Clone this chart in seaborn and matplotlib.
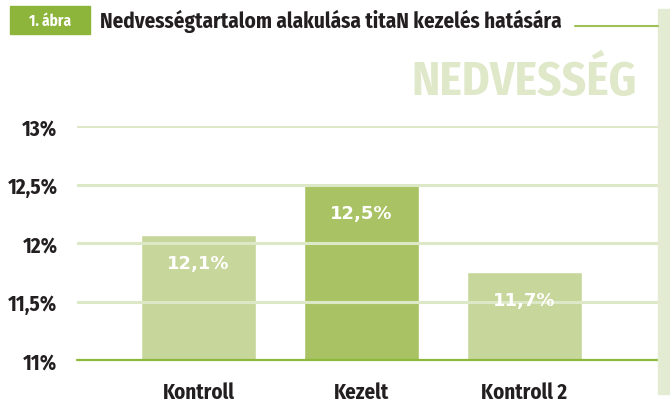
import matplotlib
matplotlib.use("Agg")
import matplotlib.pyplot as plt
import seaborn as sns
import pandas as pd
from matplotlib import font_manager as fm

categories = ["Kontroll", "Kezelt", "Kontroll 2"]
values = [12.07, 12.5, 11.75]
value_labels = ["12,1%", "12,5%", "11,7%"]
yticks = [11, 11.5, 12, 12.5, 13]
ytick_labels = ["11%", "11,5%", "12%", "12,5%", "13%"]
bar_colors = ["#c7d69b", "#a9c364", "#c7d69b"]

sns.set_theme(style="white")
names = {f.name for f in fm.fontManager.ttflist}
cond = "DejaVu Sans"
for cand in ["Fira Sans Condensed", "Roboto Condensed", "PT Sans Narrow",
             "Archivo Narrow", "Liberation Sans Narrow"]:
    if cand in names:
        cond = cand
        break
plt.rcParams["font.family"] = [cond, "DejaVu Sans"]

df = pd.DataFrame({"cat": categories, "val": values})

fig = plt.figure(figsize=(6.7, 4.02), dpi=100)
ax = fig.add_axes([77 / 670, 1 - 361 / 402, (658 - 77) / 670, (361 - 127) / 402])
sns.barplot(data=df, x="cat", y="val", hue="cat", palette=bar_colors, legend=False,
            width=0.705, saturation=1, ax=ax, zorder=1)
ax.set_ylim(11, 13)
ax.set_xlim(-0.745, 2.819)

for yv in yticks[1:]:
    ax.axhline(yv, color="#dde8c6", lw=2.2, zorder=3)
ax.axhline(11, color="#8db83a", lw=1.6, zorder=4, clip_on=False)

for i, (v, lab) in enumerate(zip(values, value_labels)):
    ax.text(i, v - 0.24, lab, ha="center", va="center", color="white",
            fontsize=13, fontweight="bold", family=["DejaVu Sans"], zorder=5)

ax.set_yticks(yticks)
ax.set_yticklabels(ytick_labels)
ax.tick_params(axis="y", length=0, pad=14, labelsize=15, labelcolor="#231f20")
ax.tick_params(axis="x", length=0, pad=15, labelsize=15, labelcolor="#231f20")
for t in ax.get_xticklabels() + ax.get_yticklabels():
    t.set_fontweight("bold")
ax.set_xlabel("")
ax.set_ylabel("")
for s in ax.spines.values():
    s.set_visible(False)

# header
fig.patches.append(plt.Rectangle((10 / 670, 1 - 35 / 402), 80 / 670, 28 / 402,
                                 transform=fig.transFigure, color="#8db53c"))
fig.text(50 / 670, 1 - 21 / 402, "1. ábra", ha="center", va="center", color="white",
         fontsize=11, fontweight="bold")
fig.text(100 / 670, 1 - 21 / 402, "Nedvességtartalom alakulása titaN kezelés hatására",
         ha="left", va="center", color="#231f20", fontsize=15.2, fontweight="bold")
fig.add_artist(plt.Line2D([575 / 670, 658 / 670], [1 - 27 / 402, 1 - 27 / 402],
                          transform=fig.transFigure, color="#9fc056", lw=1.5))
# right strip
fig.patches.append(plt.Rectangle((658 / 670, 1 - 395 / 402), 12 / 670, 385 / 402,
                                 transform=fig.transFigure, color="#e3ebd2"))
fig.text(637 / 670, 1 - 83 / 402, "NEDVESSÉG", ha="right", va="center", color="#dfe8c8",
         fontsize=34, fontweight="bold")

fig.savefig("out.png", dpi=100)
